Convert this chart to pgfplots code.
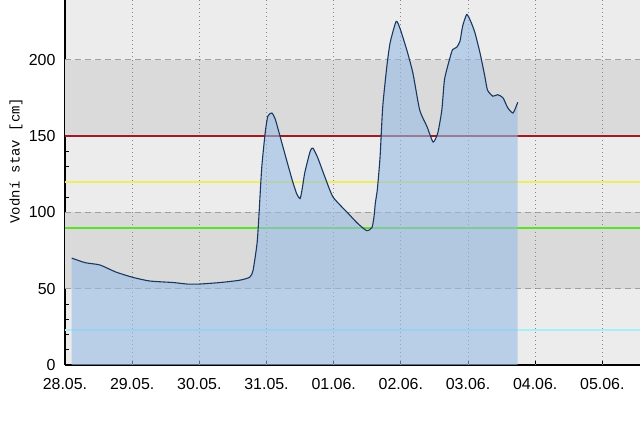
\documentclass[border=0pt]{standalone}
\usepackage{fontspec}
\setmainfont{Liberation Sans}
\newfontfamily\labelfont{Liberation Mono}
\usepackage{pgfplots}
\usepackage{pgfplotstable}
\pgfplotsset{compat=1.18}
\definecolor{bglight}{RGB}{236,236,236}
\definecolor{bgdark}{RGB}{218,218,218}
\definecolor{linecol}{RGB}{25,55,95}
\definecolor{fillcol}{RGB}{150,188,228}
\definecolor{refred}{RGB}{160,25,35}
\definecolor{refyellow}{RGB}{238,238,100}
\definecolor{refgreen}{RGB}{90,225,40}
\definecolor{refcyan}{RGB}{165,240,250}
\pgfplotstableread{
d h
0.10 70
0.30 67
0.52 65.5
0.75 61
1.00 57.5
1.26 55
1.61 54
1.82 53
2.00 53
2.31 54
2.60 55.5
2.75 57.5
2.80 62
2.86 80
2.89 100
2.90 108
2.93 130
2.98 152
3.02 163
3.08 165
3.13 161
3.20 150
3.30 134
3.39 120
3.45 112
3.50 109
3.53 115
3.57 126
3.65 140
3.69 142
3.76 136
3.87 123
3.99 110
4.20 100
4.35 93
4.49 88
4.57 90
4.60 97
4.62 106
4.65 115
4.69 136
4.73 169
4.79 195
4.84 211
4.93 225
4.99 220
5.09 206
5.18 191
5.28 167
5.39 156
5.48 146
5.55 152
5.61 167
5.65 187
5.73 201
5.77 206.5
5.83 208
5.88 212
5.92 222
5.98 229.5
6.03 226
6.10 218
6.18 204
6.25 189
6.29 180
6.37 176
6.44 177
6.52 175
6.59 168.5
6.67 165
6.74 172
}\level
\begin{document}
\begin{tikzpicture}
\useasboundingbox (0,0) rectangle (640bp,427bp);
\begin{axis}[
  at={(65bp,62bp)}, anchor=south west,
  scale only axis, width=575bp, height=365bp,
  xmin=0, xmax=8.56, ymin=0, ymax=239,
  axis x line=bottom, axis y line=left,
  axis line style={black, line width=1.4pt, -},
  axis background/.style={fill=bglight},
  xtick={0,1,2,3,4,5,6,7,8},
  xticklabels={28.05.,29.05.,30.05.,31.05.,01.06.,02.06.,03.06.,04.06.,05.06.},
  ytick={0,50,100,150,200},
  minor y tick num=4,
  tick align=inside,
  major tick length=5bp, minor tick length=4bp,
  tick style={black, line width=0.9pt},
  minor tick style={black, line width=0.6pt},
  xticklabel style={font=\fontsize{16}{18}\selectfont, anchor=north, yshift=-13bp, inner sep=0pt},
  yticklabel style={font=\fontsize{16}{18}\selectfont, anchor=east, xshift=-6bp},
  /pgf/number format/assume math mode=true,
  ylabel={\labelfont\fontsize{14}{16}\selectfont Vodní stav [cm]},
  ylabel style={at={(axis description cs:-0.085,0.56)}, anchor=center},
  clip=true,
]
% background bands
\addplot[draw=none, fill=bgdark, forget plot] coordinates {(0,50) (8.56,50) (8.56,100) (0,100)} -- cycle;
\addplot[draw=none, fill=bgdark, forget plot] coordinates {(0,150) (8.56,150) (8.56,200) (0,200)} -- cycle;
% grid
\addplot[color=gray!75, dash pattern=on 6bp off 4bp, line width=0.8pt, forget plot] coordinates {(0,50) (8.56,50)};
\addplot[color=gray!75, dash pattern=on 6bp off 4bp, line width=0.8pt, forget plot] coordinates {(0,100) (8.56,100)};
\addplot[color=gray!75, dash pattern=on 6bp off 4bp, line width=0.8pt, forget plot] coordinates {(0,200) (8.56,200)};
\addplot[color=gray!95, dash pattern=on 1.2bp off 2.8bp, line width=1pt, forget plot] coordinates {(1,0) (1,239)};
\addplot[color=gray!95, dash pattern=on 1.2bp off 2.8bp, line width=1pt, forget plot] coordinates {(2,0) (2,239)};
\addplot[color=gray!95, dash pattern=on 1.2bp off 2.8bp, line width=1pt, forget plot] coordinates {(3,0) (3,239)};
\addplot[color=gray!95, dash pattern=on 1.2bp off 2.8bp, line width=1pt, forget plot] coordinates {(4,0) (4,239)};
\addplot[color=gray!95, dash pattern=on 1.2bp off 2.8bp, line width=1pt, forget plot] coordinates {(5,0) (5,239)};
\addplot[color=gray!95, dash pattern=on 1.2bp off 2.8bp, line width=1pt, forget plot] coordinates {(6,0) (6,239)};
\addplot[color=gray!95, dash pattern=on 1.2bp off 2.8bp, line width=1pt, forget plot] coordinates {(7,0) (7,239)};
\addplot[color=gray!95, dash pattern=on 1.2bp off 2.8bp, line width=1pt, forget plot] coordinates {(8,0) (8,239)};
% reference lines
\addplot[color=refcyan, line width=2pt, forget plot] coordinates {(0,23) (8.56,23)};
\addplot[color=refgreen, line width=2pt, forget plot] coordinates {(0,90) (8.56,90)};
\addplot[color=refyellow, line width=2pt, forget plot] coordinates {(0,120) (8.56,120)};
\addplot[color=refred, line width=2pt, forget plot] coordinates {(0,150) (8.56,150)};
% water level: fill, then line
\addplot[draw=none, fill=fillcol, fill opacity=0.6, smooth, tension=0.35, forget plot] table[x=d, y=h] {\level} \closedcycle;
\addplot[draw=linecol, line width=1.1pt, smooth, tension=0.35] table[x=d, y=h] {\level};
\end{axis}
\end{tikzpicture}
\end{document}
